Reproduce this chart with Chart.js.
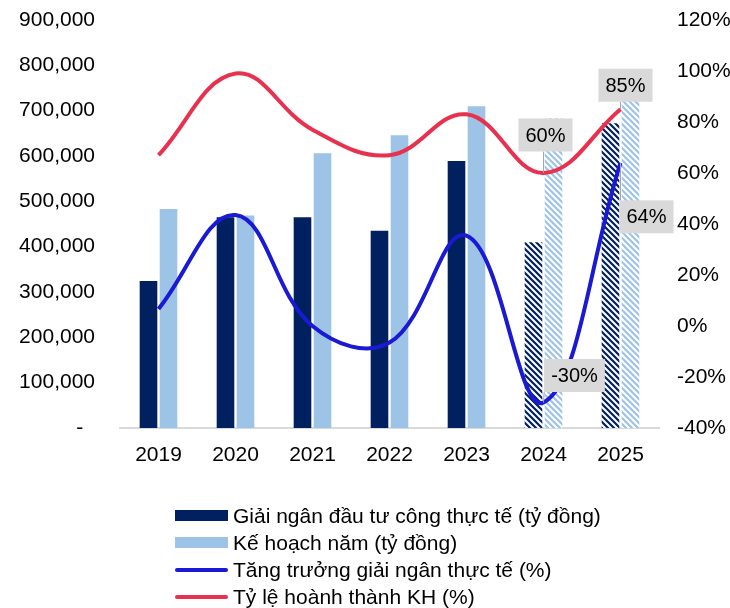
<!DOCTYPE html>
<html>
<head>
<meta charset="utf-8">
<script src="https://cdn.jsdelivr.net/npm/chart.js@4/dist/chart.umd.min.js"></script>
<style>
  body { margin: 0; background: #fff; font-family: "Liberation Sans", Arial, sans-serif; }
  #wrap { position: relative; width: 730px; height: 608px; }
  #legend { position: absolute; left: 175px; top: 502px; font-size: 21px; color: #000; }
  .item { display: flex; align-items: center; height: 27px; }
  .sw { width: 53px; margin-right: 5px; }
</style>
</head>
<body>
<div id="wrap">
  <canvas id="chart" width="730" height="608"></canvas>
  <div id="legend"></div>
</div>
<script>
const years = ["2019", "2020", "2021", "2022", "2023", "2024", "2025"];
const actual = [324000, 465000, 465000, 435000, 589000, 410000, 672000];
const plan = [483000, 469000, 606000, 646000, 710000, 683000, 790000];
const growth = [6.7, 43.5, 0, -6.5, 35.4, -30, 64];
const completion = [67, 99, 77, 67, 83, 60, 85];
const hatchedFrom = 5; // 2024 and 2025 are estimates

const navy = "#002060";
const lightBlue = "#9DC3E6";
const blueLine = "#1A1AD4";
const redLine = "#E8304F";

function stripes(color) {
  const c = document.createElement("canvas");
  c.width = 6; c.height = 6;
  const g = c.getContext("2d");
  g.fillStyle = "#fff";
  g.fillRect(0, 0, 6, 6);
  g.strokeStyle = color;
  g.lineWidth = 2.2;
  g.beginPath();
  g.moveTo(-3, -3); g.lineTo(9, 9);
  g.moveTo(-3, 3); g.lineTo(3, 9);
  g.moveTo(3, -3); g.lineTo(9, 3);
  g.stroke();
  return g.createPattern(c, "repeat");
}

const navyFill = years.map((y, i) => i >= hatchedFrom ? stripes(navy) : navy);
const lightFill = years.map((y, i) => i >= hatchedFrom ? stripes(lightBlue) : lightBlue);

// label boxes for the last two years: offset of box centre from the point
const labelSpots = {
  2: { 5: [2, -38], 6: [5, -24] },
  3: { 5: [31, -27], 6: [26, 54] }
};

const callouts = {
  id: "callouts",
  afterDatasetsDraw(chart) {
    const ctx = chart.ctx;
    ctx.save();
    ctx.font = "20px 'Liberation Sans', Arial";
    ctx.textAlign = "center";
    ctx.textBaseline = "middle";
    for (const ds in labelSpots) {
      const meta = chart.getDatasetMeta(ds);
      const vals = chart.data.datasets[ds].data;
      for (const idx in labelSpots[ds]) {
        const p = meta.data[idx];
        const [dx, dy] = labelSpots[ds][idx];
        const text = Math.round(vals[idx]) + "%";
        const w = ctx.measureText(text).width + 14;
        const h = 33;
        const cx = p.x + dx, cy = p.y + dy;
        const nx = Math.max(cx - w / 2, Math.min(p.x, cx + w / 2));
        const ny = Math.max(cy - h / 2, Math.min(p.y, cy + h / 2));
        ctx.strokeStyle = "#A6A6A6";
        ctx.lineWidth = 1;
        ctx.beginPath();
        ctx.moveTo(p.x, p.y);
        ctx.lineTo(nx, ny);
        ctx.stroke();
        ctx.fillStyle = "#D9D9D9";
        ctx.fillRect(cx - w / 2, cy - h / 2, w, h);
        ctx.fillStyle = "#000";
        ctx.fillText(text, cx, cy + 1);
      }
    }
    ctx.restore();
  }
};

Chart.defaults.font.family = "'Liberation Sans', Arial, sans-serif";
Chart.defaults.font.size = 21;
Chart.defaults.color = "#000";

function fixY(width) {
  return (s) => {
    s.width = width;
    s.paddingTop = 0;
    s.paddingBottom = 0;
  };
}

const chart = new Chart(document.getElementById("chart").getContext("2d"), {
  data: {
    labels: years,
    datasets: [
      {
        type: "bar",
        label: "Giải ngân đầu tư công thực tế (tỷ đồng)",
        data: actual,
        backgroundColor: navyFill,
        yAxisID: "y",
        order: 3,
        categoryPercentage: 0.52,
        barPercentage: 0.88
      },
      {
        type: "bar",
        label: "Kế hoạch năm (tỷ đồng)",
        data: plan,
        backgroundColor: lightFill,
        yAxisID: "y",
        order: 4,
        categoryPercentage: 0.52,
        barPercentage: 0.88
      },
      {
        type: "line",
        label: "Tỷ lệ hoành thành KH (%)",
        data: completion,
        borderColor: redLine,
        borderWidth: 4,
        pointRadius: 0,
        tension: 0.4,
        yAxisID: "y1",
        order: 1
      },
      {
        type: "line",
        label: "Tăng trưởng giải ngân thực tế (%)",
        data: growth,
        borderColor: blueLine,
        borderWidth: 4,
        pointRadius: 0,
        tension: 0.4,
        yAxisID: "y1",
        order: 0
      }
    ]
  },
  options: {
    responsive: false,
    animation: false,
    layout: { padding: { top: 20, bottom: 0 } },
    plugins: { legend: { display: false }, tooltip: { enabled: false } },
    scales: {
      x: {
        grid: { display: false, drawTicks: false },
        border: { color: "#D9D9D9", width: 2 },
        ticks: { padding: 15 },
        afterFit: (s) => { s.height = 180; }
      },
      y: {
        position: "left",
        min: 0,
        max: 900000,
        grid: { display: false, drawTicks: false },
        border: { display: false },
        ticks: {
          stepSize: 100000,
          padding: 25,
          callback: (v) => v === 0 ? "-  " : v.toLocaleString("en-US")
        },
        afterFit: fixY(120)
      },
      y1: {
        position: "right",
        min: -40,
        max: 120,
        grid: { display: false, drawTicks: false },
        border: { display: false },
        ticks: {
          stepSize: 20,
          padding: 18,
          callback: (v) => v + "%"
        },
        afterFit: fixY(71)
      }
    }
  },
  plugins: [callouts]
});

// legend, in the order shown in the original
const legendOrder = [0, 1, 3, 2];
const legend = document.getElementById("legend");
legendOrder.forEach((i) => {
  const ds = chart.data.datasets[i];
  const row = document.createElement("div");
  row.className = "item";
  const sw = document.createElement("div");
  sw.className = "sw";
  if (ds.type === "bar") {
    sw.style.height = "11px";
    sw.style.background = i === 0 ? navy : lightBlue;
  } else {
    sw.style.height = "4px";
    sw.style.borderRadius = "2px";
    sw.style.background = ds.borderColor;
  }
  const tx = document.createElement("span");
  tx.textContent = ds.label;
  row.appendChild(sw);
  row.appendChild(tx);
  legend.appendChild(row);
});
</script>
</body>
</html>
